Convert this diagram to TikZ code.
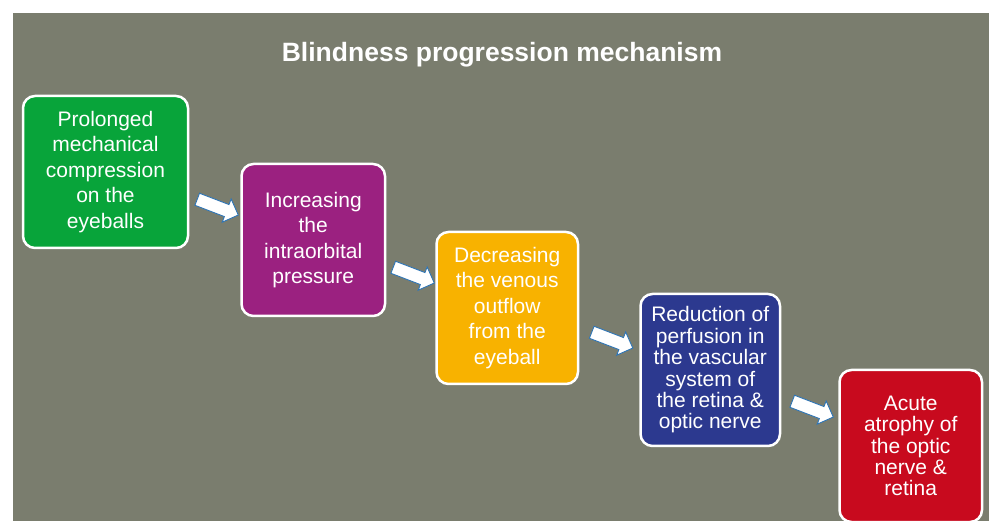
\documentclass[tikz,border=0pt]{standalone}
\usepackage{fontspec}
\setmainfont{Liberation Sans}
\usepackage{tikz}
\usetikzlibrary{positioning,calc,shapes.arrows}
\definecolor{SlideGray}{RGB}{122,125,110}
\definecolor{StageGreen}{RGB}{8,164,58}
\definecolor{StagePurple}{RGB}{155,33,128}
\definecolor{StageOrange}{RGB}{248,178,0}
\definecolor{StageBlue}{RGB}{44,57,143}
\definecolor{StageRed}{RGB}{200,10,30}
\definecolor{ArrowBlue}{RGB}{46,117,182}

\begin{document}
\begin{tikzpicture}[
  x=1pt, y=1pt,
  stage/.style={draw=white, line width=2.5pt, rounded corners=12pt, text=white, align=center,
    minimum width=142pt, minimum height=152pt, inner sep=3pt, font=\fontsize{21}{25.5}\selectfont},
  tight/.style={font=\fontsize{21}{21.4}\selectfont},
  push/.style={single arrow, draw=ArrowBlue, fill=white, line width=0.9pt, inner sep=0pt,
    inner ysep=6pt, single arrow head extend=6pt, minimum height=44pt, rotate=-21}
]
\useasboundingbox (0,0) rectangle (989,-521);
\fill[SlideGray] (13,-13) rectangle (989,-521);

\node[text=white, font=\fontsize{26.5}{32}\selectfont\bfseries] (title) at (502,-55) {Blindness progression mechanism};

\node[stage, fill=StageGreen, minimum width=165pt] (compress) at (105.5,-172) {Prolonged\\mechanical\\compression\\on the\\eyeballs};
\node[stage, fill=StagePurple, minimum width=143.5pt, right=51pt of compress, yshift=-68pt] (pressure) {Increasing\\the\\intraorbital\\pressure};
\node[stage, fill=StageOrange, minimum width=141.5pt, right=49pt of pressure, yshift=-68pt] (outflow) {Decreasing\\the venous\\outflow\\from the\\eyeball};
\node[stage, tight, fill=StageBlue, minimum width=139.5pt, right=60pt of outflow, yshift=-62pt] (perfusion) {Reduction of\\perfusion in\\the vascular\\system of\\the retina \&\\optic nerve};
\node[stage, tight, fill=StageRed, minimum width=142.5pt, right=57pt of perfusion, yshift=-76pt] (atrophy) {Acute\\atrophy of\\the optic\\nerve \&\\retina};

\node[push] (a1) at ($(compress.east)!0.5!(pressure.west)$) {};
\node[push] (a2) at ($(pressure.east)!0.5!(outflow.west)$) {};
\node[push] (a3) at ($(outflow.east)!0.5!(perfusion.west)$) {};
\node[push] (a4) at ($(perfusion.east)!0.5!(atrophy.west)$) {};
\end{tikzpicture}
\end{document}
